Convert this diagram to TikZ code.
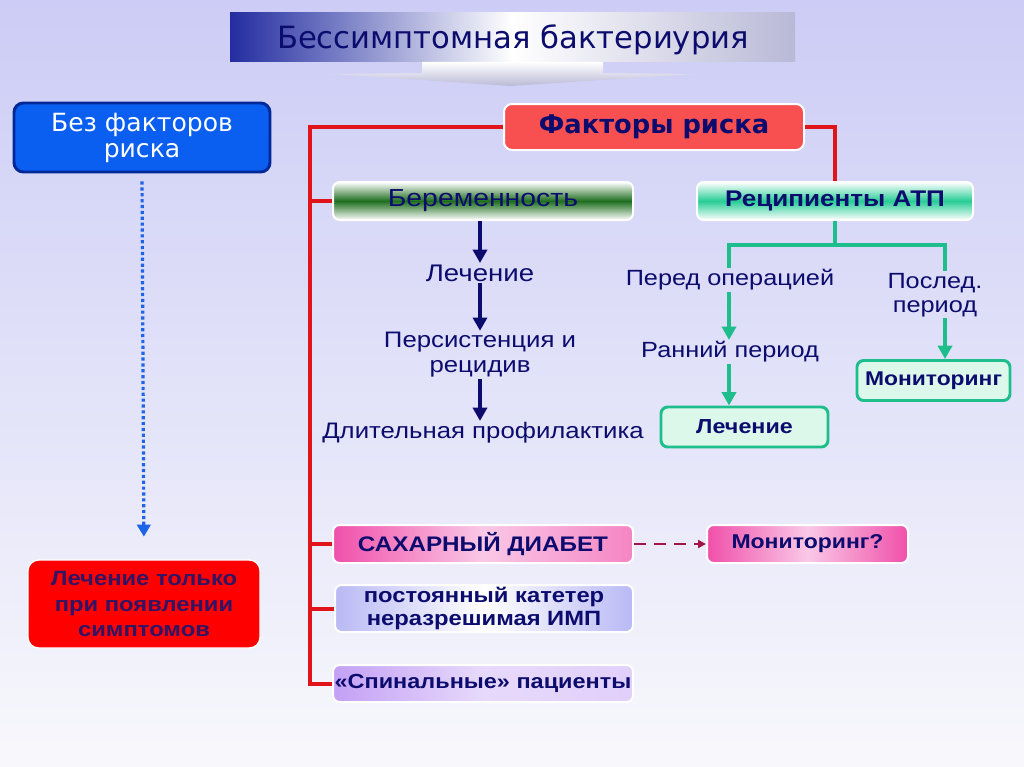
\documentclass[tikz,border=0pt]{standalone}
\usepackage{fontspec}
\setmainfont[FakeStretch=1.15]{Liberation Sans}
\newfontfamily\comic{DejaVu Sans}
\usetikzlibrary{arrows.meta}
\definecolor{bgtop}{RGB}{204,204,246}
\definecolor{bgbot}{RGB}{248,248,252}
\definecolor{navy}{RGB}{12,12,110}
\definecolor{redline}{RGB}{225,20,25}
\definecolor{teal}{RGB}{30,190,140}
\definecolor{bluebox}{RGB}{10,95,240}
\definecolor{blueedge}{RGB}{0,40,150}
\definecolor{fakfill}{RGB}{248,80,80}
\definecolor{darkgreen}{RGB}{30,110,30}
\definecolor{mint}{RGB}{40,205,150}
\definecolor{mintlight}{RGB}{220,248,235}
\definecolor{pinkdeep}{RGB}{240,80,170}
\definecolor{pinklight}{RGB}{250,200,230}
\definecolor{lav}{RGB}{185,185,245}
\definecolor{purp}{RGB}{195,160,245}
\definecolor{dotblue}{RGB}{30,100,230}
\definecolor{dashred}{RGB}{160,20,70}
\definecolor{bannerblue}{RGB}{35,45,160}
\definecolor{bannergray}{RGB}{185,185,215}
\definecolor{symtext}{RGB}{50,20,100}
\tikzset{
  gbox/.style={rounded corners=5pt, draw=white, line width=1.5pt, minimum width=225pt, minimum height=28.5pt, inner sep=1pt, text=navy, align=center},
  tbox/.style={rounded corners=5pt, draw=teal, line width=2.2pt, fill=mintlight, minimum height=30pt, text=navy, font=\bfseries\fontsize{15.2}{18}\selectfont},
  plain/.style={text=navy, align=center, font=\fontsize{18}{18.8}\selectfont, inner sep=1pt},
  navyarrow/.style={draw=navy, line width=3pt, -{Triangle[length=10pt,width=10.5pt]}},
  tealarrow/.style={draw=teal, line width=3pt, -{Triangle[length=10pt,width=10.5pt]}},
  redl/.style={draw=redline, line width=3pt},
  teall/.style={draw=teal, line width=2.8pt}
}
\begin{document}
\begin{tikzpicture}[x=0.75pt,y=-0.75pt]
\useasboundingbox (0,0) rectangle (1024,767);
\shade[top color=bgtop, bottom color=bgbot] (0,0) rectangle (1024,767);
% title banner
\shade[left color=bannerblue, right color=bannergray, middle color=white] (230,13) rectangle (795,62);
\shade[top color=white, bottom color=bannergray] (422,62) -- (603,62) -- (603,73) -- (695,74) -- (510,86) -- (332,74) -- (422,73) -- cycle;
\node[text=navy, font=\comic\fontsize{23}{26}\selectfont] (title) at (513,40) {Бессимптомная бактериурия};
% left column
\node[rounded corners=7pt, draw=blueedge, line width=2.2pt, fill=bluebox, minimum width=192pt, minimum height=51.75pt, text=white, align=center, font=\comic\fontsize{18.8}{19.5}\selectfont] (nofac) at (142,137.5) {Без факторов\\риска};
\node[rounded corners=8pt, draw=white, line width=1pt, fill=red, minimum width=174pt, minimum height=66pt, text=symtext, align=center, font=\bfseries\fontsize{15.5}{18.8}\selectfont] (onlysym) at (144,604) {Лечение только\\при появлении\\симптомов};
\draw[draw=dotblue, line width=2.4pt, dotted, shorten <=6pt, shorten >=17pt, -{Triangle[length=9pt,width=10pt]}] (nofac.south) -- (onlysym.north);
% risk factors
\node[rounded corners=6pt, draw=white, line width=1.5pt, fill=fakfill, minimum width=225pt, minimum height=34.5pt, text=navy, font=\comic\bfseries\fontsize{19.3}{21}\selectfont] (fak) at (654,127) {Факторы риска};
\node[gbox, top color=white, bottom color=white, middle color=darkgreen, font=\fontsize{18.5}{20}\selectfont] (preg) at (483,201) {Беременность};
\node[gbox, minimum width=207pt, top color=white, bottom color=white, middle color=mint, font=\bfseries\fontsize{17}{19}\selectfont] (rec) at (835,201) {Реципиенты АТП};
\node[gbox, left color=pinkdeep, right color=pinkdeep!70, middle color=pinklight, font=\bfseries\fontsize{15.8}{18}\selectfont] (sd) at (483,544) {САХАРНЫЙ ДИАБЕТ};
\node[gbox, minimum width=150.75pt, left color=pinkdeep, right color=pinkdeep, middle color=pinklight, font=\bfseries\fontsize{15}{18}\selectfont] (monq) at (807.5,544) {Мониторинг?};
\node[gbox, minimum width=223.5pt, minimum height=35.25pt, left color=lav, right color=lav, middle color=white, font=\bfseries\fontsize{15.5}{17.3}\selectfont] (kat) at (484,608.5) {постоянный катетер\\неразрешимая ИМП};
\node[gbox, minimum height=27.75pt, left color=purp, right color=purp!50, middle color=purp!40, font=\bfseries\fontsize{15.3}{18}\selectfont] (spin) at (483,683.5) {«Спинальные» пациенты};
% red connectors
\coordinate (sp) at (310,683.5);
\draw[redl] (fak.west) -| (sp) -- (spin.west);
\draw[redl] (preg.west -| sp) -- (preg.west);
\draw[redl] (sd.west -| sp) -- (sd.west);
\draw[redl] (kat.west -| sp) -- (kat.west);
\draw[redl] (fak.east) -| (rec.north);
% pregnancy chain
\node[plain] (t1) at (480,273) {Лечение};
\node[plain, font=\fontsize{16.8}{18.8}\selectfont] (t2) at (480,355) {Персистенция и\\рецидив};
\node[plain, font=\fontsize{16.8}{18.8}\selectfont] (t3) at (483,433) {Длительная профилактика};
\draw[navyarrow] (preg.south -| t1) -- (t1.north);
\draw[navyarrow] (t1.south) -- (t2.north);
\draw[navyarrow] (t2.south) -- (t2.south |- t3.north);
% transplant branch
\node[plain, font=\fontsize{16.5}{18}\selectfont] (op) at (730,280) {Перед операцией};
\node[plain, font=\fontsize{16.5}{18}\selectfont] (ear) at (730,352) {Ранний период};
\node[plain, font=\fontsize{16.5}{18}\selectfont] (post) at (935,295) {Послед.\\период};
\node[tbox, minimum width=125.25pt] (lech) at (744.5,427) {Лечение};
\node[tbox, minimum width=114.75pt, font=\bfseries\fontsize{14.9}{18}\selectfont] (mon) at (933.5,380.5) {Мониторинг};
\coordinate (tj) at (835,245);
\coordinate (tl) at (729,245);
\coordinate (tr) at (945,245);
\coordinate (tlend) at (729,268);
\coordinate (trend) at (945,271);
\draw[teall] (rec.south) -- (tj);
\draw[teall] (tlend) -- (tl) -- (tr) -- (trend);
\draw[tealarrow] (729,0 |- op.south) -- (729,0 |- ear.north);
\draw[tealarrow] (729,0 |- ear.south) -- (729,0 |- lech.north);
\draw[tealarrow] (945,0 |- post.south) -- (945,0 |- mon.north);
% dashed arrow
\draw[draw=dashred, line width=1.6pt, dashed, dash pattern=on 9pt off 6pt, -{Triangle[length=6pt,width=6pt]}] (sd.east) -- (monq.west);
\end{tikzpicture}
\end{document}
